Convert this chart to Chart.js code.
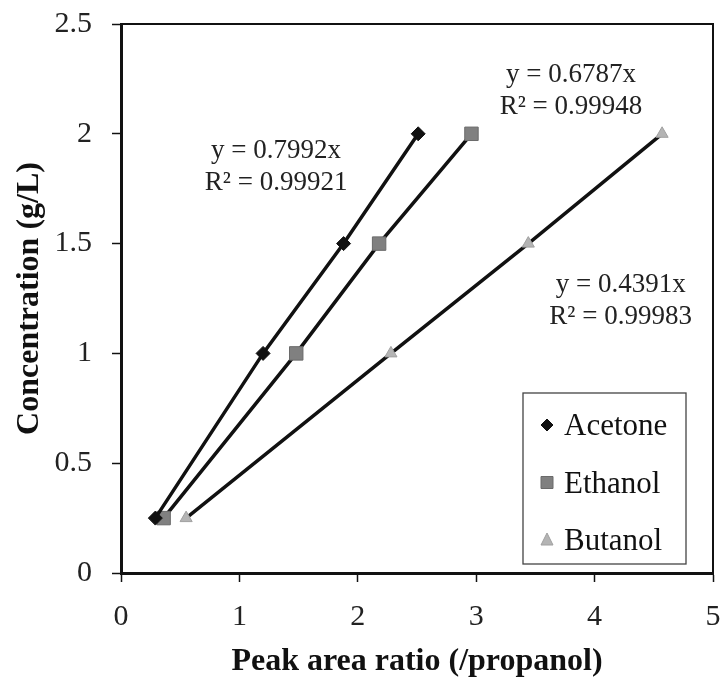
<!DOCTYPE html>
<html>
<head>
<meta charset="utf-8">
<script src="https://cdn.jsdelivr.net/npm/chart.js@4.4.1/dist/chart.umd.min.js"></script>
<style>
  html, body { margin: 0; padding: 0; background: #fff; }
  #wrap { width: 724px; height: 682px; }
</style>
</head>
<body>
<div id="wrap"><canvas id="calChart" width="724" height="682"></canvas></div>
<script>
// calibration data (x = peak area ratio, y = concentration)
const seriesNames = ['Acetone', 'Ethanol', 'Butanol'];
const concentration = [0.25, 1, 1.5, 2];
const acetoneRatio = [0.29, 1.20, 1.88, 2.51];
const ethanolRatio = [0.36, 1.48, 2.18, 2.96];
const butanolRatio = [0.55, 2.28, 3.44, 4.57];

const xTickValues = [0, 1, 2, 3, 4, 5];
const xTickLabels = ['0', '1', '2', '3', '4', '5'];
const yTickValues = [0, 0.5, 1, 1.5, 2, 2.5];
const yTickLabels = ['0', '0.5', '1', '1.5', '2', '2.5'];

const equations = [
    ['y = 0.7992x', 'R\u00B2 = 0.99921'],
    ['y = 0.6787x', 'R\u00B2 = 0.99948'],
    ['y = 0.4391x', 'R\u00B2 = 0.99983']
];
// where each equation label sits (data units)
const eqAnchor = [
    { x: 1.31, y: 1.92 },
    { x: 3.80, y: 2.27 },
    { x: 4.22, y: 1.31 }
];

const serif = '"Liberation Serif", "Times New Roman", serif';

function pts(xs) {
    return xs.map((x, i) => ({ x: x, y: concentration[i] }));
}

// equations written next to the lines
const equationText = {
    id: 'equationText',
    afterDatasetsDraw(chart) {
        const { ctx, scales } = chart;
        ctx.save();
        ctx.font = '27px ' + serif;
        ctx.fillStyle = '#222';
        ctx.textAlign = 'center';
        ctx.textBaseline = 'middle';
        equations.forEach((lines, i) => {
            const px = scales.x.getPixelForValue(eqAnchor[i].x);
            const py = scales.y.getPixelForValue(eqAnchor[i].y);
            lines.forEach((t, j) => ctx.fillText(t, px, py + j * 32));
        });
        ctx.restore();
    }
};

// top and right edges of the plot frame
const plotFrame = {
    id: 'plotFrame',
    afterDraw(chart) {
        const { ctx, chartArea: a } = chart;
        ctx.save();
        ctx.strokeStyle = '#111';
        ctx.lineWidth = 2;
        ctx.beginPath();
        ctx.moveTo(a.left, a.top);
        ctx.lineTo(a.right, a.top);
        ctx.lineTo(a.right, a.bottom);
        ctx.stroke();
        ctx.restore();
    }
};

// boxed legend in the lower right corner
const boxLegend = {
    id: 'boxLegend',
    afterDraw(chart) {
        const { ctx, chartArea: a } = chart;
        const left = a.right - 190, top = a.bottom - 180, w = 163, h = 171;
        ctx.save();
        ctx.fillStyle = '#fff';
        ctx.fillRect(left, top, w, h);
        ctx.strokeStyle = '#444';
        ctx.lineWidth = 1.3;
        ctx.strokeRect(left, top, w, h);
        chart.data.datasets.forEach((ds, i) => {
            const cy = top + 32 + i * 57.5;
            const mx = left + 24;
            ctx.fillStyle = ds.pointBackgroundColor;
            ctx.strokeStyle = ds.pointBorderColor;
            ctx.lineWidth = 1;
            ctx.beginPath();
            if (ds.pointStyle === 'rectRot') {
                ctx.moveTo(mx, cy - 6); ctx.lineTo(mx + 6, cy); ctx.lineTo(mx, cy + 6); ctx.lineTo(mx - 6, cy);
            } else if (ds.pointStyle === 'rect') {
                ctx.rect(mx - 6, cy - 6, 12, 12);
            } else {
                ctx.moveTo(mx, cy - 7); ctx.lineTo(mx + 6, cy + 5); ctx.lineTo(mx - 6, cy + 5);
            }
            ctx.closePath();
            ctx.fill();
            ctx.stroke();
            ctx.fillStyle = '#111';
            ctx.font = '31px ' + serif;
            ctx.textAlign = 'left';
            ctx.textBaseline = 'middle';
            ctx.fillText(ds.label, left + 41, cy + 2);
        });
        ctx.restore();
    }
};

const ctx = document.getElementById('calChart').getContext('2d');
const calChart = new Chart(ctx, {
    type: 'scatter',
    data: {
        datasets: [
            {
                label: seriesNames[0],
                data: pts(acetoneRatio),
                showLine: true,
                borderColor: '#111',
                borderWidth: 3.5,
                pointStyle: 'rectRot',
                pointRadius: 7,
                pointBackgroundColor: '#111',
                pointBorderColor: '#111',
                pointBorderWidth: 1
            },
            {
                label: seriesNames[1],
                data: pts(ethanolRatio),
                showLine: true,
                borderColor: '#111',
                borderWidth: 3.5,
                pointStyle: 'rect',
                pointRadius: 9.5,
                pointBackgroundColor: '#808080',
                pointBorderColor: '#6a6a6a',
                pointBorderWidth: 1
            },
            {
                label: seriesNames[2],
                data: pts(butanolRatio),
                showLine: true,
                borderColor: '#111',
                borderWidth: 3.5,
                pointStyle: 'triangle',
                pointRadius: 7,
                pointBackgroundColor: '#b4b4b4',
                pointBorderColor: '#a0a0a0',
                pointBorderWidth: 1
            }
        ]
    },
    options: {
        responsive: false,
        animation: false,
        layout: { padding: { left: 0, top: 24, right: 11, bottom: 0 } },
        plugins: {
            legend: { display: false },
            tooltip: { enabled: false }
        },
        scales: {
            x: {
                type: 'linear',
                min: 0,
                max: 5,
                afterBuildTicks: (s) => { s.ticks = xTickValues.map(v => ({ value: v })); },
                afterFit: (s) => { s.height = 109; s.paddingLeft = 0; s.paddingRight = 0; },
                ticks: {
                    callback: (v, i) => xTickLabels[i],
                    font: { family: serif, size: 30 },
                    color: '#222',
                    padding: 17
                },
                grid: { drawOnChartArea: false, drawTicks: true, tickLength: 9, tickWidth: 1.5, color: '#111' },
                border: { display: true, color: '#111', width: 3 },
                title: {
                    display: true,
                    text: 'Peak area ratio (/propanol)',
                    font: { family: serif, size: 32, weight: 'bold' },
                    color: '#111',
                    padding: { top: 0, bottom: 1 }
                }
            },
            y: {
                type: 'linear',
                min: 0,
                max: 2.5,
                afterBuildTicks: (s) => { s.ticks = yTickValues.map(v => ({ value: v })); },
                afterFit: (s) => { s.width = 121; s.paddingTop = 0; s.paddingBottom = 0; },
                ticks: {
                    callback: (v, i) => yTickLabels[i],
                    font: { family: serif, size: 30 },
                    color: '#222',
                    padding: 20
                },
                grid: { drawOnChartArea: false, drawTicks: true, tickLength: 9, tickWidth: 1.5, color: '#111' },
                border: { display: true, color: '#111', width: 3 },
                title: {
                    display: true,
                    text: 'Concentration (g/L)',
                    font: { family: serif, size: 32, weight: 'bold' },
                    color: '#111',
                    padding: { top: 11, bottom: 0 }
                }
            }
        }
    },
    plugins: [equationText, plotFrame, boxLegend]
});
</script>
</body>
</html>
